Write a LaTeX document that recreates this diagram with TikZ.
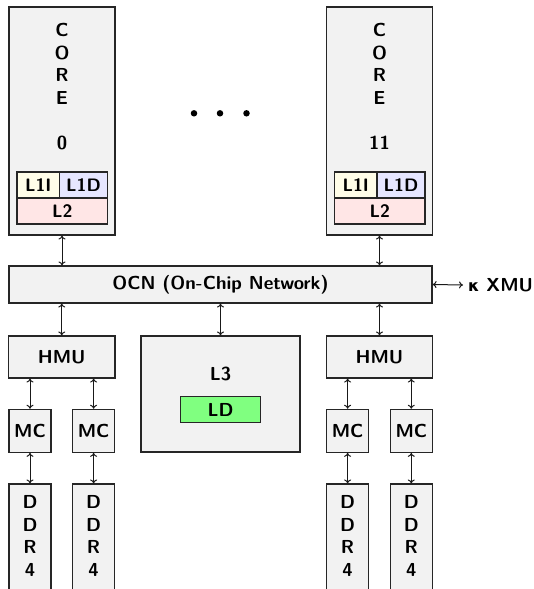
\documentclass[tikz,border=0pt]{standalone}
\usepackage{fontspec}
\usetikzlibrary{arrows.meta}
\newfontfamily\kapfont{DejaVu Sans}
\newcommand\mainf{\fontsize{18.8}{22.5}\selectfont\sffamily\bfseries}
\newcommand\cachef{\fontsize{18}{20}\selectfont\sffamily\bfseries}
\definecolor{boxgray}{HTML}{F2F2F2}
\definecolor{l1icol}{HTML}{FFFDE8}
\definecolor{l1dcol}{HTML}{E6E6FF}
\definecolor{l2col}{HTML}{FFE6E6}
\definecolor{ldcol}{HTML}{80FF80}
\tikzset{
  blk/.style={draw=black!85, fill=boxgray, line width=1.1pt, inner sep=0pt, font=\mainf},
  cache/.style={draw=black!85, line width=1.1pt, inner sep=0pt, font=\cachef, minimum height=26pt},
  vtext/.style={anchor=north, inner sep=0pt, align=center, font=\mainf},
  link/.style={{To[length=4pt,width=7pt]}-{To[length=4pt,width=7pt]}, line width=1pt, black!90},
  dotnode/.style={circle, fill=black, inner sep=0pt, minimum size=6.5pt}
}
\begin{document}
\begin{tikzpicture}[x=1pt,y=-1pt]
\useasboundingbox (0,0) rectangle (534,589);
\clip (0,0) rectangle (534,589);
% cores
\node[blk, minimum width=106pt, minimum height=228pt] (core0) at (62,121) {};
\node[blk, minimum width=106pt, minimum height=228pt] (core11) at (379.5,121) {};
\node[vtext] (core0t) at (62,23.5) {C\\O\\R\\E\\[22.5pt]0};
\node[vtext] (core11t) at (379.5,23.5) {C\\O\\R\\E\\[22.5pt]11};
% caches core 0
\node[cache, fill=l1icol, minimum width=42.5pt] (l1i0) at (38.25,185) {L1I};
\node[cache, fill=l1dcol, minimum width=48pt] (l1d0) at (83.5,185) {L1D};
\node[cache, fill=l2col, minimum width=90.5pt] (l20) at (62.25,211) {L2};
% caches core 11
\node[cache, fill=l1icol, minimum width=42.5pt] (l1i11) at (355.75,185) {L1I};
\node[cache, fill=l1dcol, minimum width=48pt] (l1d11) at (401,185) {L1D};
\node[cache, fill=l2col, minimum width=90.5pt] (l211) at (379.75,211) {L2};
% dots
\node[dotnode] (dot1) at (194,113.3) {};
\node[dotnode] (dot2) at (220,113.3) {};
\node[dotnode] (dot3) at (246.5,113.3) {};
% OCN
\node[blk, minimum width=423pt, minimum height=37pt] (ocn) at (220.5,284.5) {OCN (On-Chip Network)};
\coordinate (xmuend) at (463,285);
\node[anchor=west, inner sep=0pt, font=\mainf] (xmu) at (468,285) {{\kapfont\bfseries\fontsize{16}{19}\selectfont κ} XMU};
% HMU and L3
\node[blk, minimum width=106.5pt, minimum height=42pt] (hmu0) at (61.75,357) {HMU};
\node[blk, minimum width=106.5pt, minimum height=42pt] (hmu1) at (379.5,357) {HMU};
\node[blk, minimum width=159pt, minimum height=116pt] (l3) at (220.5,394) {};
\node[font=\mainf, inner sep=0pt] (l3t) at (220.5,374) {L3};
\node[blk, fill=ldcol, minimum width=80pt, minimum height=26pt] (ld) at (220.5,409.7) {LD};
% MC
\node[blk, minimum width=42pt, minimum height=43pt] (mc1) at (30,430.8) {MC};
\node[blk, minimum width=42pt, minimum height=43pt] (mc2) at (93.6,430.8) {MC};
\node[blk, minimum width=42pt, minimum height=43pt] (mc3) at (347.6,430.8) {MC};
\node[blk, minimum width=42pt, minimum height=43pt] (mc4) at (411.3,430.8) {MC};
% DDR4
\node[blk, minimum width=42pt, minimum height=120pt] (ddr1) at (30,544) {};
\node[blk, minimum width=42pt, minimum height=120pt] (ddr2) at (93.6,544) {};
\node[blk, minimum width=42pt, minimum height=120pt] (ddr3) at (347.6,544) {};
\node[blk, minimum width=42pt, minimum height=120pt] (ddr4) at (411.3,544) {};
\node[vtext] (ddr1t) at (30,495.5) {D\\D\\R\\4};
\node[vtext] (ddr2t) at (93.6,495.5) {D\\D\\R\\4};
\node[vtext] (ddr3t) at (347.6,495.5) {D\\D\\R\\4};
\node[vtext] (ddr4t) at (411.3,495.5) {D\\D\\R\\4};
% links
\draw[link] (core0.south) -- (core0.south |- ocn.north);
\draw[link] (core11.south) -- (core11.south |- ocn.north);
\draw[link] (ocn.east) -- (xmuend);
\draw[link] (hmu0.north |- ocn.south) -- (hmu0.north);
\draw[link] (hmu1.north |- ocn.south) -- (hmu1.north);
\draw[link] (l3.north |- ocn.south) -- (l3.north);
\draw[link] (mc1.north |- hmu0.south) -- (mc1.north);
\draw[link] (mc2.north |- hmu0.south) -- (mc2.north);
\draw[link] (mc3.north |- hmu1.south) -- (mc3.north);
\draw[link] (mc4.north |- hmu1.south) -- (mc4.north);
\draw[link] (mc1.south) -- (ddr1.north);
\draw[link] (mc2.south) -- (ddr2.north);
\draw[link] (mc3.south) -- (ddr3.north);
\draw[link] (mc4.south) -- (ddr4.north);
\end{tikzpicture}
\end{document}
